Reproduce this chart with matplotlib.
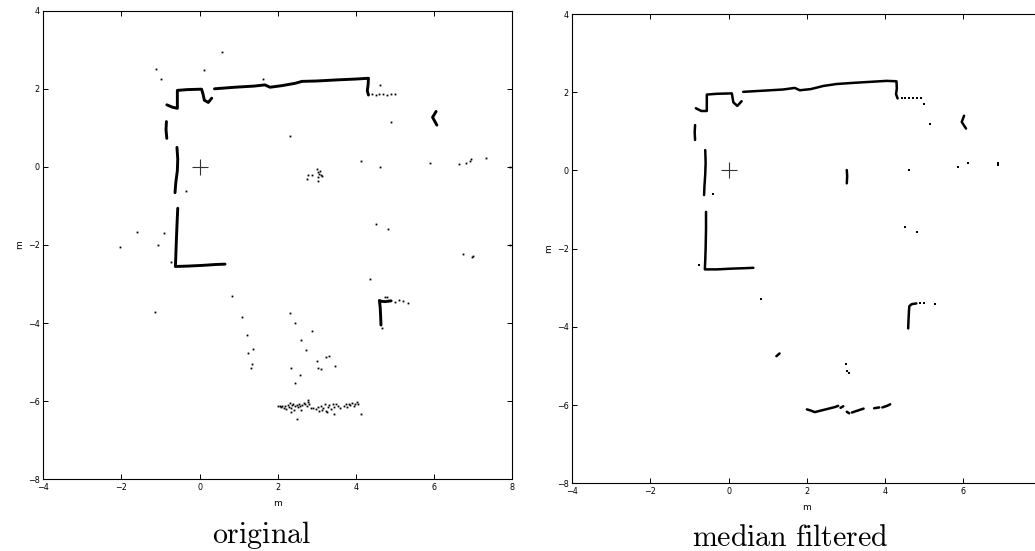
import matplotlib
matplotlib.use("Agg")
import matplotlib.pyplot as plt

plt.rcParams['mathtext.fontset'] = 'cm'
plt.rcParams['font.family'] = ['DejaVu Sans']

# ---------------- data: original scan ----------------
# wall polylines (x list, y list)
orig_wall_a_x = [-0.84, -0.70, -0.57, -0.57, -0.30, 0.05, 0.09, 0.12, 0.22, 0.31]
orig_wall_a_y = [1.59, 1.53, 1.50, 1.96, 1.98, 1.99, 1.85, 1.71, 1.65, 1.76]
orig_wall_b_x = [0.38, 0.90, 1.40, 1.67, 1.80, 2.10, 2.44, 2.62, 3.00, 3.55, 4.00, 4.32, 4.31, 4.29, 4.32]
orig_wall_b_y = [2.00, 2.04, 2.07, 2.10, 2.04, 2.08, 2.14, 2.19, 2.20, 2.23, 2.25, 2.27, 2.10, 1.95, 1.84]
orig_wall_c_x = [-0.85, -0.86, -0.84]
orig_wall_c_y = [1.16, 0.95, 0.73]
orig_wall_d_x = [-0.58, -0.56, -0.57, -0.61, -0.63]
orig_wall_d_y = [0.50, 0.20, -0.10, -0.40, -0.66]
orig_wall_e_x = [-0.56, -0.58, -0.60, -0.61, -0.62, -0.30, 0.10, 0.40, 0.65]
orig_wall_e_y = [-1.06, -1.50, -2.00, -2.30, -2.55, -2.54, -2.52, -2.50, -2.49]
orig_wall_f_x = [4.64, 4.63, 4.62, 4.60, 4.64, 4.75, 4.90]
orig_wall_f_y = [-4.05, -3.80, -3.60, -3.42, -3.44, -3.45, -3.43]
orig_wall_g_x = [6.05, 5.96, 6.07]
orig_wall_g_y = [1.42, 1.27, 1.07]
orig_walls = [(orig_wall_a_x, orig_wall_a_y), (orig_wall_b_x, orig_wall_b_y),
              (orig_wall_c_x, orig_wall_c_y), (orig_wall_d_x, orig_wall_d_y),
              (orig_wall_e_x, orig_wall_e_y), (orig_wall_f_x, orig_wall_f_y),
              (orig_wall_g_x, orig_wall_g_y)]

# isolated scan points
orig_pts_x = [-1.12, -0.99, 0.11, 0.58, 1.61, 4.40, 4.50, 4.60, 4.70, 4.80, 4.90, 5.00, 4.62,
              4.89, 2.31, 4.12, 4.62, 5.90, 6.64, 6.82, 6.92, 6.94, 7.32, 7.93,
              3.00, 3.03, 3.05, 3.07, 3.10, 3.04, 2.77, 2.87, 2.74, 3.04, 3.12,
              -0.35, 4.51, 4.83, -0.91, -1.06, -0.74, -2.03, -1.60, -1.14,
              4.36, 6.73, 6.98, 7.00, 7.93,
              0.84, 1.08, 1.20, 1.36, 1.23, 1.35, 1.31,
              2.30, 2.44, 2.88, 2.59, 2.71, 3.00, 3.30, 3.23, 3.02, 3.10, 3.47, 2.33, 2.56, 2.44,
              4.74, 4.80, 5.00, 5.10, 5.20, 5.34, 4.66,
              2.49, 3.44, 4.14, 2.77]
orig_pts_y = [2.51, 2.25, 2.48, 2.93, 2.25, 1.86, 1.85, 1.86, 1.87, 1.85, 1.86, 1.86, 2.10,
              1.16, 0.79, 0.14, 0.01, 0.09, 0.07, 0.09, 0.16, 0.19, 0.22, 0.01,
              -0.05, -0.12, -0.18, -0.10, -0.22, -0.25, -0.21, -0.22, -0.31, -0.35, -0.23,
              -0.62, -1.45, -1.58, -1.68, -2.00, -2.43, -2.05, -1.66, -3.71,
              -2.87, -2.22, -2.30, -2.28, -2.00,
              -3.30, -3.84, -4.30, -4.67, -4.76, -5.05, -5.16,
              -3.75, -4.00, -4.19, -4.44, -4.68, -4.96, -4.83, -4.87, -5.14, -5.17, -5.10, -5.16, -5.32, -5.53,
              -3.33, -3.32, -3.46, -3.41, -3.44, -3.48, -4.13,
              -6.45, -6.34, -6.32, -5.97]

# noisy band of points near y = -6.1
band_x = [2.00, 2.05, 2.08, 2.12, 2.15, 2.18, 2.22, 2.25, 2.28, 2.30, 2.33, 2.36, 2.40, 2.42,
          2.45, 2.48, 2.52, 2.55, 2.58, 2.62, 2.66, 2.70, 2.74, 2.76, 2.80, 2.84, 2.98, 3.02,
          3.06, 3.10, 3.13, 3.16, 3.20, 3.24, 3.28, 3.32, 3.36, 3.40, 3.45, 3.50, 3.55, 3.70,
          3.74, 3.78, 3.82, 3.86, 3.90, 3.94, 3.98, 4.02, 4.06, 2.35, 2.60, 2.90, 3.25, 3.60]
band_y = [-6.13, -6.12, -6.15, -6.13, -6.17, -6.12, -6.20, -6.10, -6.15, -6.05, -6.18, -6.10,
          -6.08, -6.22, -6.12, -6.09, -6.15, -6.06, -6.12, -6.10, -6.04, -6.08, -6.13, -6.02,
          -6.07, -6.18, -6.20, -6.15, -6.25, -6.12, -6.22, -6.18, -6.08, -6.24, -6.14, -6.10,
          -6.20, -6.06, -6.15, -6.08, -6.12, -6.12, -6.08, -6.14, -6.06, -6.10, -6.05, -6.12,
          -6.06, -6.03, -6.08, -6.28, -6.23, -6.18, -6.28, -6.17]

# ---------------- data: median filtered ----------------
filt_wall_a_x = [-0.84, -0.70, -0.56, -0.56, -0.30, 0.08, 0.10, 0.12, 0.22, 0.33]
filt_wall_a_y = [1.59, 1.52, 1.52, 1.94, 1.96, 1.97, 1.85, 1.74, 1.65, 1.77]
filt_wall_b_x = [0.37, 0.90, 1.40, 1.69, 1.82, 2.10, 2.42, 2.76, 3.20, 3.70, 4.04, 4.29, 4.30, 4.28, 4.32]
filt_wall_b_y = [2.01, 2.04, 2.07, 2.11, 2.05, 2.08, 2.16, 2.21, 2.24, 2.27, 2.29, 2.28, 2.10, 1.95, 1.84]
filt_wall_c_x = [-0.86, -0.87, -0.86]
filt_wall_c_y = [1.16, 0.97, 0.78]
filt_wall_d_x = [-0.60, -0.59, -0.60, -0.62, -0.63]
filt_wall_d_y = [0.52, 0.20, -0.10, -0.40, -0.63]
filt_wall_e_x = [-0.58, -0.58, -0.59, -0.60, -0.61, -0.30, 0.10, 0.40, 0.63]
filt_wall_e_y = [-1.06, -1.50, -2.00, -2.30, -2.53, -2.53, -2.51, -2.50, -2.49]
filt_wall_f_x = [4.59, 4.60, 4.61, 4.62, 4.68, 4.80]
filt_wall_f_y = [-4.04, -3.80, -3.60, -3.47, -3.42, -3.40]
filt_wall_g_x = [6.02, 5.96, 6.07]
filt_wall_g_y = [1.40, 1.24, 1.07]
filt_wall_h_x = [3.02, 3.03, 3.02]
filt_wall_h_y = [0.01, -0.15, -0.33]
filt_band_1_x = [2.00, 2.10, 2.20, 2.40, 2.60, 2.72, 2.80]
filt_band_1_y = [-6.11, -6.14, -6.18, -6.13, -6.08, -6.05, -6.02]
filt_band_2_x = [2.86, 2.93]
filt_band_2_y = [-6.07, -6.03]
filt_band_3_x = [3.02, 3.08]
filt_band_3_y = [-6.17, -6.21]
filt_band_4_x = [3.15, 3.30, 3.45]
filt_band_4_y = [-6.19, -6.14, -6.09]
filt_band_5_x = [3.72, 3.85]
filt_band_5_y = [-6.08, -6.06]
filt_band_6_x = [3.93, 4.05, 4.13]
filt_band_6_y = [-6.06, -6.02, -5.98]
filt_dash_x = [1.22, 1.30]
filt_dash_y = [-4.75, -4.68]
filt_walls = [(filt_wall_a_x, filt_wall_a_y), (filt_wall_b_x, filt_wall_b_y),
              (filt_wall_c_x, filt_wall_c_y), (filt_wall_d_x, filt_wall_d_y),
              (filt_wall_e_x, filt_wall_e_y), (filt_wall_f_x, filt_wall_f_y),
              (filt_wall_g_x, filt_wall_g_y), (filt_wall_h_x, filt_wall_h_y),
              (filt_band_1_x, filt_band_1_y), (filt_band_2_x, filt_band_2_y),
              (filt_band_3_x, filt_band_3_y), (filt_band_4_x, filt_band_4_y),
              (filt_band_5_x, filt_band_5_y), (filt_band_6_x, filt_band_6_y),
              (filt_dash_x, filt_dash_y)]
filt_pts_x = [4.42, 4.52, 4.62, 4.72, 4.82, 4.93, 5.00, 5.15, 4.61, 5.87, 6.13, 6.90, 6.90,
              -0.39, -0.75, 0.83, 4.51, 4.82, 4.90, 5.00, 5.28, 3.00, 3.02, 3.08]
filt_pts_y = [1.86, 1.85, 1.86, 1.86, 1.85, 1.86, 1.71, 1.20, 0.01, 0.09, 0.19, 0.20, 0.15,
              -0.59, -2.42, -3.29, -1.44, -1.57, -3.38, -3.40, -3.42, -4.94, -5.13, -5.17]

x_ticks = [-4, -2, 0, 2, 4, 6, 8]
y_ticks = [-8, -6, -4, -2, 0, 2, 4]
captions = [r'$\mathrm{original}$', r'$\mathrm{median\ filtered}$']

# ---------------- figure ----------------
W, H = 1035, 551
fig = plt.figure(figsize=(W / 100, H / 100), dpi=100)
ax1 = fig.add_axes([43.3 / W, (H - 479.3) / H, 469.0 / W, 468.6 / H])
ax2 = fig.add_axes([572.3 / W, (H - 483.3) / H, 469.2 / W, 469.3 / H])


def fmt(t):
    return str(t).replace('-', '\u2212')


def style(ax, last_xlabel=True):
    ax.set_xlim(-4, 8)
    ax.set_ylim(-8, 4)
    ax.set_xticks(x_ticks)
    ax.set_yticks(y_ticks)
    xl = [fmt(t) for t in x_ticks]
    if not last_xlabel:
        xl[-1] = ''  # lies beyond the right edge of the figure in the reference
    ax.set_xticklabels(xl)
    ax.set_yticklabels([fmt(t) for t in y_ticks])
    ax.tick_params(direction='in', top=True, right=True, length=3.5, width=0.7,
                   labelsize=5.8, pad=2.5)
    for s in ax.spines.values():
        s.set_linewidth(0.8)
        s.set_color('black')
    ax.set_xlabel('m', fontsize=6.5, labelpad=5)
    ax.set_ylabel('m', fontsize=6.5, labelpad=3)
    ax.plot([0], [0], marker='+', markersize=11, mew=0.8, color='#333333', ls='none')


for wx, wy in orig_walls:
    ax1.plot(wx, wy, color='black', lw=2.1, solid_capstyle='round', solid_joinstyle='round')
ax1.plot(orig_pts_x, orig_pts_y, ls='none', marker='s', markersize=1.3, mew=0, color='black')
ax1.plot(band_x, band_y, ls='none', marker='s', markersize=1.3, mew=0, color='black')

for wx, wy in filt_walls:
    ax2.plot(wx, wy, color='black', lw=1.8, solid_capstyle='round', solid_joinstyle='round')
ax2.plot(filt_pts_x, filt_pts_y, ls='none', marker='s', markersize=1.5, mew=0, color='black')

style(ax1)
style(ax2, last_xlabel=False)

fig.text(262 / W, 1 - 535 / H, captions[0], fontsize=21.5, ha='center', va='center')
fig.text(790 / W, 1 - 537 / H, captions[1], fontsize=21.5, ha='center', va='center')

fig.savefig('out.png', dpi=100)
